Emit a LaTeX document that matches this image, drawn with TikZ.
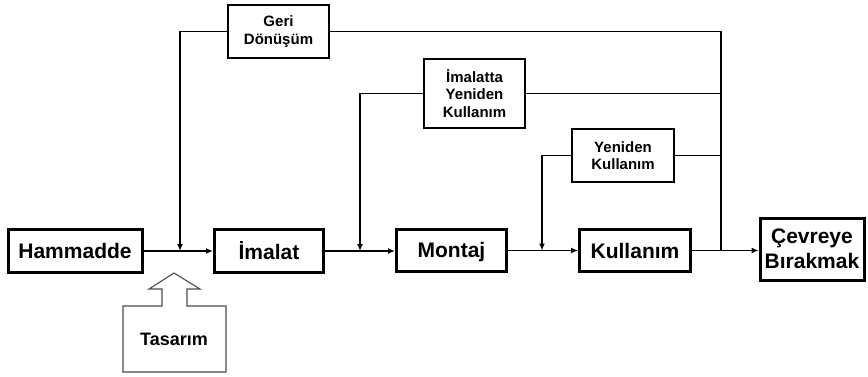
\documentclass[tikz,border=0pt]{standalone}
\usepackage{fontspec}
\setmainfont{Liberation Sans}
\usetikzlibrary{arrows.meta}

\tikzset{
  mainbox/.style={draw,line width=3pt,inner sep=0pt,align=center,
    font=\fontsize{21}{25}\selectfont\bfseries},
  sidebox/.style={draw,line width=1.9pt,inner sep=0pt,align=center,
    font=\fontsize{15}{17.5}\selectfont\bfseries},
  flow/.style={line width=1.7pt,-{Latex[length=7pt,width=6pt]}},
  back/.style={line width=1.7pt},
}

\begin{document}
\begin{tikzpicture}[x=1pt,y=-1pt]
\useasboundingbox (0,0) rectangle (868,377);
% main chain
\node[mainbox,minimum width=134,minimum height=43] (ham) at (75,251) {Hammadde};
\node[mainbox,minimum width=109,minimum height=43] (imal) at (269,251) {İmalat};
\node[mainbox,minimum width=110,minimum height=42] (mon) at (451.5,250.5) {Montaj\vphantom{İ}};
\node[mainbox,minimum width=111,minimum height=42] (kul) at (635,250.5) {Kullanım};
\node[mainbox,minimum width=104,minimum height=62] (cev) at (812,249) {Çevreye\\Bırakmak};
% return loops
\node[sidebox,minimum width=101,minimum height=53] (geri) at (278.5,31.5) {Geri\\Dönüşüm};
\node[sidebox,minimum width=101,minimum height=69] (imy) at (474.5,93.5) {İmalatta\\Yeniden\\Kullanım};
\node[sidebox,minimum width=102,minimum height=53] (yen) at (623,155.5) {Yeniden\\Kullanım};
% junctions on the main line
\coordinate (j1) at (180,251);
\coordinate (j2) at (360,251);
\coordinate (j3) at (542,250.5);
\coordinate (j4) at (721,250.5);

\draw[flow] (ham) -- (imal);
\draw[flow] (imal) -- (imal -| mon.west);
\draw[flow] (mon) -- (kul);
\draw[flow] (kul) -- (cev.west |- kul);

\draw[flow] (geri.west) -| (j1);
\draw[flow] (imy.west) -| (j2);
\draw[flow] (yen.west) -| (j3);
\draw[back] (geri.east) -| (j4);
\draw[back] (imy.east) -- (imy.east -| j4);
\draw[back] (yen.east) -- (yen.east -| j4);

% Tasarim input arrow
\draw[line width=1.1pt,draw=black!70] (123,372) -- (123,306) -- (162,306) -- (162,289)
  -- (149,289) -- (174,273) -- (200,289) -- (187,289) -- (187,306) -- (226,306)
  -- (226,372) -- cycle;
\node[font=\fontsize{18}{21}\selectfont\bfseries] (tas) at (174,339) {Tasarım};
\end{tikzpicture}
\end{document}
